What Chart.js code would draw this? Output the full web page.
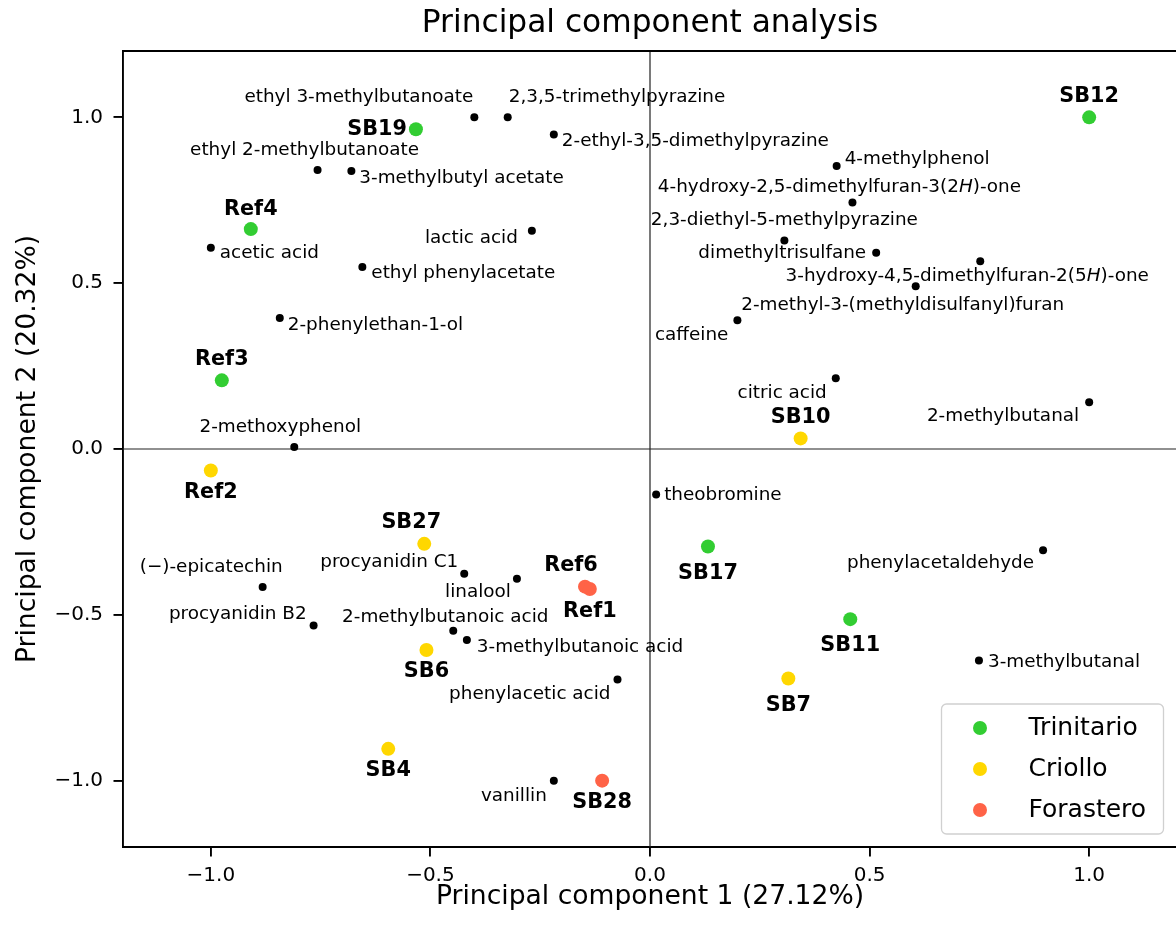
<!DOCTYPE html>
<html>
<head>
<meta charset="utf-8">
<title>Principal component analysis</title>
<script src="https://cdn.jsdelivr.net/npm/chart.js"></script>
<style>
  html, body { margin: 0; padding: 0; background: #fff; overflow: hidden; }
  #wrap { position: relative; width: 1184px; height: 926px; }
</style>
</head>
<body>
<div id="wrap"><canvas id="pca"></canvas></div>
<script>
// Loadings of the compounds (scaled to [-1, 1])
const variableNames = [
  'ethyl 3-methylbutanoate', '2,3,5-trimethylpyrazine', '2-ethyl-3,5-dimethylpyrazine',
  'ethyl 2-methylbutanoate', '3-methylbutyl acetate', '4-methylphenol',
  '4-hydroxy-2,5-dimethylfuran-3(2H)-one', '2,3-diethyl-5-methylpyrazine', 'dimethyltrisulfane',
  '3-hydroxy-4,5-dimethylfuran-2(5H)-one', '2-methyl-3-(methyldisulfanyl)furan', 'caffeine',
  'lactic acid', 'acetic acid', 'ethyl phenylacetate', '2-phenylethan-1-ol', '2-methoxyphenol',
  'citric acid', '2-methylbutanal', 'theobromine', 'phenylacetaldehyde', '3-methylbutanal',
  '(\u2212)-epicatechin', 'procyanidin C1', 'linalool', 'procyanidin B2', '2-methylbutanoic acid',
  '3-methylbutanoic acid', 'phenylacetic acid', 'vanillin'
];
const variablePC1 = [
  -0.400, -0.324, -0.219, -0.757, -0.680, 0.425, 0.461, 0.306, 0.515, 0.752, 0.605, 0.199,
  -0.269, -1.000, -0.655, -0.843, -0.810, 0.423, 1.000, 0.014, 0.895, 0.749,
  -0.882, -0.423, -0.303, -0.766, -0.448, -0.417, -0.074, -0.219
];
const variablePC2 = [
  1.000, 1.000, 0.948, 0.841, 0.838, 0.853, 0.743, 0.629, 0.592, 0.566, 0.491, 0.388,
  0.658, 0.607, 0.549, 0.395, 0.006, 0.213, 0.141, -0.137, -0.305, -0.638,
  -0.416, -0.376, -0.391, -0.532, -0.548, -0.576, -0.695, -1.000
];

// Scores of the cocoa samples, per variety
const groupNames = ['Trinitario', 'Criollo', 'Forastero'];
const groupColors = ['limegreen', 'gold', 'tomato'];

const trinitarioSamples = ['SB19', 'SB12', 'Ref4', 'Ref3', 'SB17', 'SB11'];
const trinitarioPC1 = [-0.533, 1.000, -0.909, -0.975, 0.132, 0.456];
const trinitarioPC2 = [0.964, 1.000, 0.663, 0.207, -0.294, -0.513];

const criolloSamples = ['Ref2', 'SB10', 'SB27', 'SB6', 'SB7', 'SB4'];
const criolloPC1 = [-1.000, 0.343, -0.514, -0.509, 0.315, -0.596];
const criolloPC2 = [-0.065, 0.032, -0.286, -0.606, -0.692, -0.904];

const forasteroSamples = ['Ref6', 'Ref1', 'SB28'];
const forasteroPC1 = [-0.148, -0.137, -0.109];
const forasteroPC2 = [-0.415, -0.422, -1.000];

const tickValues = [-1, -0.5, 0, 0.5, 1];

// label placement next to each point: [dx, dy, text anchor] in px
const variableLabelPos = [
  [-1, -20, 'right'], [1, -20, 'left'], [8, 7, 'left'], [-13, -20, 'center'], [8, 7, 'left'],
  [8, -7, 'left'], [-13, -15, 'center'], [0, -20, 'center'], [-10, 1, 'right'], [-13, 15, 'center'],
  [-13, 19, 'center'], [-9, 15, 'right'], [-14, 7, 'right'], [9, 6, 'left'], [9, 6, 'left'],
  [8, 7, 'left'], [-14, -20, 'center'], [-9, 15, 'right'], [-10, 14, 'right'], [8, 1, 'left'],
  [-9, 13, 'right'], [9, 2, 'left'], [20, -20, 'right'], [-6, -11, 'right'], [-6, 14, 'right'],
  [-7, -11, 'right'], [-8, -14, 'center'], [10, 7, 'left'], [-7, 15, 'right'], [-7, 16, 'right']
];
const sampleLabelPos = [
  [[-9, 0, 'right'], [0, -21, 'center'], [0, -20, 'center'], [0, -21, 'center'], [0, 27, 'center'], [0, 26, 'center']],
  [[0, 22, 'center'], [0, -21, 'center'], [-13, -21, 'center'], [0, 22, 'center'], [0, 27, 'center'], [0, 22, 'center']],
  [[-14, -21, 'center'], [0, 23, 'center'], [0, 22, 'center']]
];

const FONT = "'DejaVu Sans', sans-serif";

function toPoints(xs, ys) {
  return xs.map((x, i) => ({ x: x, y: ys[i] }));
}

function fmtTick(v) {
  return (v < 0 ? '\u2212' : '') + Math.abs(v).toFixed(1);
}

// split "(2H)" style parts so the H can be set in italics
function textRuns(str) {
  const runs = [];
  const re = /\((\d)H\)/g;
  let last = 0, m;
  while ((m = re.exec(str))) {
    runs.push({ t: str.slice(last, m.index) + '(' + m[1], it: false });
    runs.push({ t: 'H', it: true });
    last = m.index + m[0].length - 1;
  }
  runs.push({ t: str.slice(last), it: false });
  return runs;
}

function drawText(ctx, str, x, y, anchor, size, weight) {
  const runs = textRuns(str);
  let total = 0;
  runs.forEach(r => {
    r.font = (r.it ? 'italic ' : '') + weight + ' ' + size + 'px ' + FONT;
    ctx.font = r.font;
    r.w = ctx.measureText(r.t).width;
    total += r.w;
  });
  let cx = anchor === 'left' ? x : anchor === 'right' ? x - total : x - total / 2;
  ctx.textAlign = 'left';
  ctx.textBaseline = 'middle';
  ctx.fillStyle = '#000';
  runs.forEach(r => {
    ctx.font = r.font;
    ctx.fillText(r.t, cx, y);
    cx += r.w;
  });
}

const sampleNames = [trinitarioSamples, criolloSamples, forasteroSamples];

// zero lines plus the top/right spines
const axesLines = {
  id: 'axesLines',
  beforeDatasetsDraw(chart) {
    const { ctx, chartArea: a, scales: { x, y } } = chart;
    ctx.save();
    ctx.strokeStyle = '#222';
    ctx.lineWidth = 1.2;
    const x0 = x.getPixelForValue(0), y0 = y.getPixelForValue(0);
    ctx.beginPath();
    ctx.moveTo(x0, a.top); ctx.lineTo(x0, a.bottom);
    ctx.moveTo(a.left, y0); ctx.lineTo(a.right, y0);
    ctx.stroke();
    ctx.strokeStyle = '#000';
    ctx.lineWidth = 1.9;
    ctx.beginPath();
    ctx.moveTo(a.left, a.top); ctx.lineTo(a.right, a.top); ctx.lineTo(a.right, a.bottom);
    ctx.stroke();
    ctx.restore();
  }
};

const pointLabels = {
  id: 'pointLabels',
  afterDatasetsDraw(chart) {
    const ctx = chart.ctx;
    ctx.save();
    chart.data.datasets.forEach((ds, di) => {
      const meta = chart.getDatasetMeta(di);
      meta.data.forEach((el, i) => {
        if (di < 3) {
          const p = sampleLabelPos[di][i];
          drawText(ctx, sampleNames[di][i], el.x + p[0], el.y + p[1], p[2], 20.8, 'bold');
        } else {
          const p = variableLabelPos[i];
          drawText(ctx, variableNames[i], el.x + p[0], el.y + p[1], p[2], 18.4, 'normal');
        }
      });
    });
    ctx.restore();
  }
};

// legend box in the lower right corner of the plot
const cornerLegend = {
  id: 'cornerLegend',
  afterDraw(chart) {
    const { ctx, chartArea: a } = chart;
    const w = 222, h = 130;
    const left = a.right - 13.5 - w, top = a.bottom - 13 - h;
    ctx.save();
    ctx.beginPath();
    ctx.roundRect(left, top, w, h, 5);
    ctx.fillStyle = 'rgba(255,255,255,0.85)';
    ctx.fill();
    ctx.strokeStyle = '#d0d0d0';
    ctx.lineWidth = 1.3;
    ctx.stroke();
    groupNames.forEach((g, i) => {
      const cy = top + 24 + i * 41;
      ctx.beginPath();
      ctx.arc(left + 38.5, cy, 7, 0, Math.PI * 2);
      ctx.fillStyle = groupColors[i];
      ctx.fill();
      ctx.font = '25px ' + FONT;
      ctx.fillStyle = '#000';
      ctx.textAlign = 'left';
      ctx.textBaseline = 'middle';
      ctx.fillText(g, left + 87, cy);
    });
    ctx.restore();
  }
};

const groupData = [
  toPoints(trinitarioPC1, trinitarioPC2),
  toPoints(criolloPC1, criolloPC2),
  toPoints(forasteroPC1, forasteroPC2)
];

const datasets = groupNames.map((g, i) => ({
  label: g,
  data: groupData[i],
  backgroundColor: groupColors[i],
  borderWidth: 0,
  pointRadius: 7,
  pointHoverRadius: 7
}));
datasets.push({
  label: 'variables',
  data: toPoints(variablePC1, variablePC2),
  backgroundColor: '#000',
  borderWidth: 0,
  pointRadius: 4,
  pointHoverRadius: 4
});

function axis(title, isY) {
  return {
    type: 'linear',
    min: -1.2,
    max: 1.2,
    afterBuildTicks(scale) {
      scale.ticks = tickValues.map(v => ({ value: v }));
    },
    afterFit(scale) {
      if (isY) scale.width = 123; else scale.height = 79;
    },
    ticks: {
      callback: fmtTick,
      color: '#000',
      padding: isY ? 10.5 : 7,
      font: { family: FONT, size: 20 }
    },
    grid: {
      drawOnChartArea: false,
      drawTicks: true,
      tickLength: 9.5,
      color: '#000',
      lineWidth: 1.9
    },
    border: { display: true, color: '#000', width: 1.9 },
    title: {
      display: true,
      text: title,
      color: '#000',
      font: { family: FONT, size: 26.6 },
      padding: isY ? { top: 12, bottom: 0 } : { top: 0, bottom: 13 }
    }
  };
}

new Chart(document.getElementById('pca'), {
  type: 'scatter',
  data: { datasets: datasets },
  options: {
    responsive: true,
    maintainAspectRatio: false,
    animation: false,
    devicePixelRatio: 1,
    layout: { padding: { left: 0, right: 5, top: 0, bottom: 0 } },
    scales: {
      x: axis('Principal component 1 (27.12%)', false),
      y: axis('Principal component 2 (20.32%)', true)
    },
    plugins: {
      legend: { display: false },
      tooltip: { enabled: false },
      title: {
        display: true,
        fullSize: false,
        text: 'Principal component analysis',
        color: '#000',
        font: { family: FONT, size: 31.25, weight: 'normal', lineHeight: 1.2 },
        padding: { top: 5, bottom: 8.5 }
      }
    }
  },
  plugins: [axesLines, pointLabels, cornerLegend]
});
</script>
</body>
</html>
